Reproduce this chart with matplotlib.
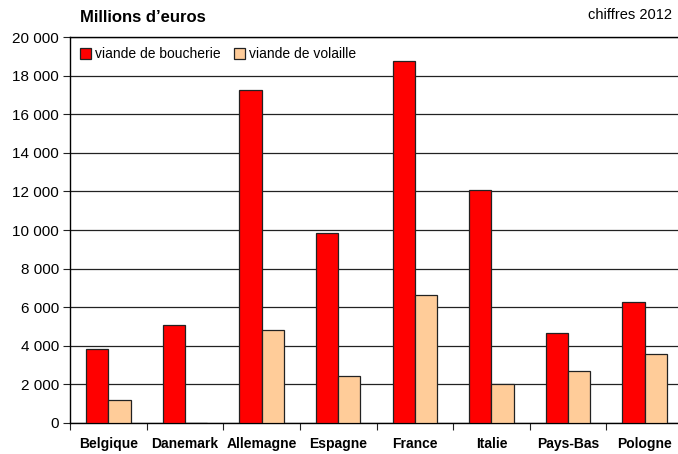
import matplotlib

matplotlib.use("Agg")
import matplotlib.pyplot as plt  # noqa: E402
import numpy as np  # noqa: E402
from matplotlib.ticker import FuncFormatter  # noqa: E402

countries = ["Belgique", "Danemark", "Allemagne", "Espagne", "France", "Italie", "Pays-Bas", "Pologne"]
boucherie = [3850, 5080, 17260, 9830, 18780, 12050, 4640, 6280]
volaille = [1200, 0, 4800, 2420, 6650, 2030, 2700, 3560]

plt.rcParams["font.family"] = ["Liberation Sans", "DejaVu Sans"]

fig = plt.figure(figsize=(6.78, 4.54), dpi=100, facecolor="white")
ax = fig.add_axes([70 / 678, 31 / 454, 613 / 678, 386 / 454])

x = np.arange(len(countries))
w = 0.29
ax.bar(x - w / 2, boucherie, width=w, color="#ff0000", edgecolor="#222222",
       linewidth=0.9, label="viande de boucherie", zorder=3)
ax.bar(x + w / 2, volaille, width=w, color="#ffcc99", edgecolor="#222222",
       linewidth=0.9, label="viande de volaille", zorder=3)

ax.set_xlim(-0.5, len(countries) - 0.5)
ax.set_ylim(0, 20000)
ax.set_yticks(np.arange(0, 20001, 2000))
ax.yaxis.set_major_formatter(FuncFormatter(lambda v, _: f"{int(v):,}".replace(",", " ")))
ax.grid(axis="y", color="#222222", linewidth=0.9, zorder=0)

# category boundaries carry the x ticks, names sit between them
ax.set_xticks(np.arange(len(countries) + 1) - 0.5)
ax.set_xticklabels([])
ax.set_xticks(x, minor=True)
ax.set_xticklabels(countries, minor=True, fontweight="bold", fontsize=10)
ax.tick_params(axis="x", which="minor", length=0, pad=10)
ax.tick_params(axis="x", which="major", length=5, direction="out", color="#222222")
ax.tick_params(axis="y", length=5, direction="out", labelsize=11, color="#222222", pad=3)

ax.spines["right"].set_visible(False)
for side in ("left", "bottom", "top"):
    ax.spines[side].set_color("#000000")
    ax.spines[side].set_linewidth(1.0)

leg = ax.legend(loc="upper left", bbox_to_anchor=(-0.004, 1.006), ncol=2, frameon=False,
                fontsize=10, handlelength=0.8, handleheight=0.8, handletextpad=0.3,
                columnspacing=0.95, borderaxespad=0.5)

fig.text(80 / 678, 1 - 18 / 454, "Millions d\u2019euros", fontsize=12, fontweight="bold",
         va="center", ha="left")
fig.text(672 / 678, 1 - 15 / 454, "chiffres 2012", fontsize=10.5, va="center", ha="right")

fig.savefig("out.png", dpi=100, facecolor="white")
